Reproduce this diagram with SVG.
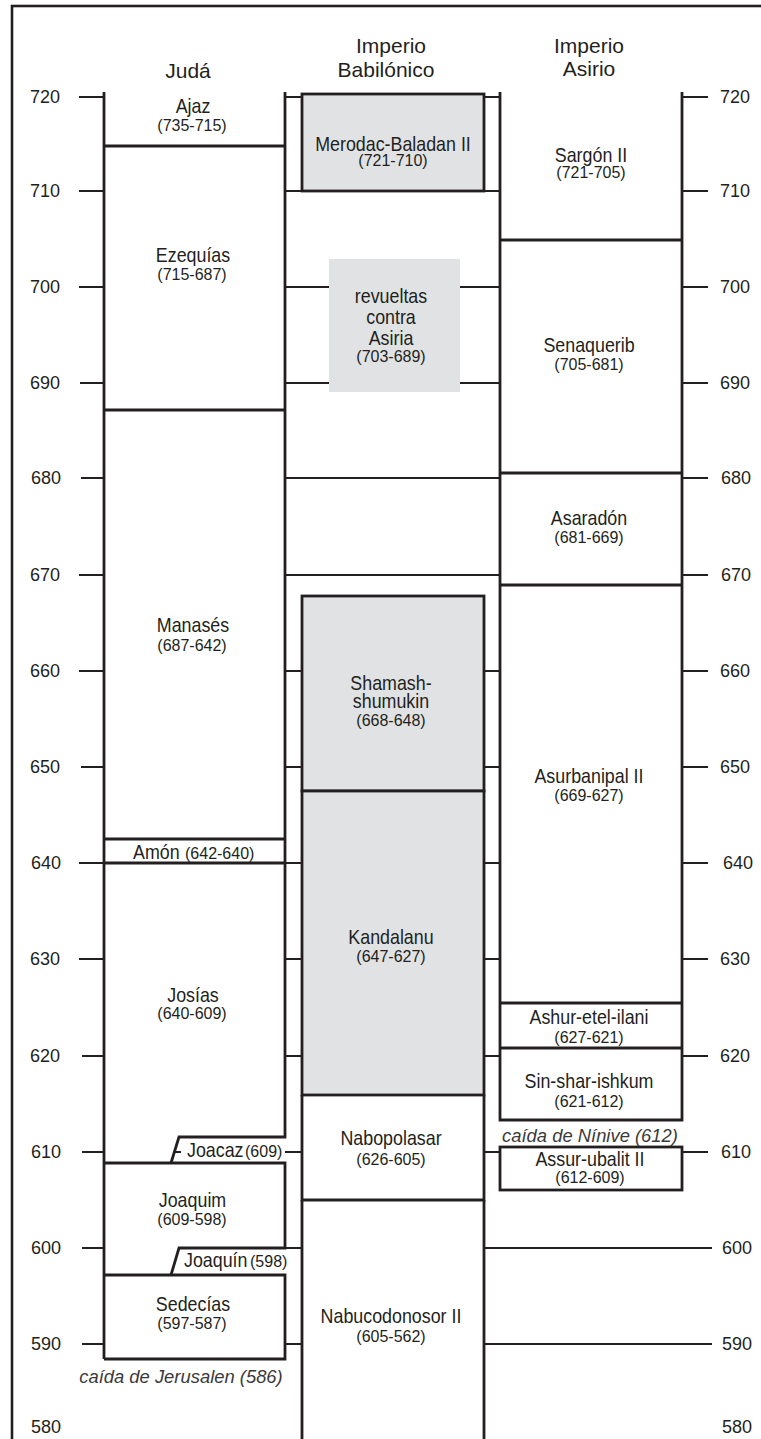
<svg xmlns="http://www.w3.org/2000/svg" width="761" height="1439" viewBox="0 0 761 1439">
<style>
.frame{fill:none;stroke:#231f20;stroke-width:2.6}
.col{fill:none;stroke:#231f20;stroke-width:2.8}
.gray{fill:#e1e2e4;stroke:#231f20;stroke-width:2.8}
.soft{fill:#e1e2e4;stroke:none}
.tick{stroke:#231f20;stroke-width:1.9;fill:none}
text{fill:#231f20}
.n{font-family:"Liberation Sans",sans-serif;font-size:21px;text-anchor:middle;transform:scaleX(0.85);transform-box:fill-box;transform-origin:center}
.ns{font-family:"Liberation Sans",sans-serif;font-size:21px;transform:scaleX(0.85);transform-box:fill-box;transform-origin:left center}
.y{font-family:"Liberation Sans",sans-serif;font-size:16px;text-anchor:middle}
.ys{font-family:"Liberation Sans",sans-serif;font-size:16px}
.h{font-family:"Liberation Sans",sans-serif;font-size:21px;text-anchor:middle}
.ax{font-family:"Liberation Sans",sans-serif;font-size:18px}
.axl{text-anchor:end}
.note{font-family:"Liberation Sans",sans-serif;font-size:18.4px;font-style:italic;text-anchor:middle;fill:#3a3a3a}
</style>
<rect class="frame" x="12" y="6" width="760" height="1440"/>

<g id="headers">
<text class="h" x="188" y="78">Judá</text>
<text class="h" x="391" y="53">Imperio</text>
<text class="h" x="386" y="77">Babilónico</text>
<text class="h" x="589" y="53">Imperio</text>
<text class="h" x="589" y="76">Asirio</text>
</g>

<g id="axis-left" class="ax axl">
<text x="60" y="103">720</text>
<text x="60" y="197">710</text>
<text x="60" y="293">700</text>
<text x="60" y="389">690</text>
<text x="61" y="484">680</text>
<text x="60" y="581">670</text>
<text x="60" y="677">660</text>
<text x="60" y="773">650</text>
<text x="61" y="869">640</text>
<text x="60" y="965">630</text>
<text x="60" y="1062">620</text>
<text x="61" y="1158">610</text>
<text x="61" y="1254">600</text>
<text x="61" y="1350">590</text>
<text x="61" y="1433">580</text>
</g>
<g id="axis-right" class="ax">
<text x="720" y="103">720</text>
<text x="720" y="197">710</text>
<text x="720" y="293">700</text>
<text x="720" y="389">690</text>
<text x="721" y="484">680</text>
<text x="721" y="581">670</text>
<text x="720" y="677">660</text>
<text x="720" y="773">650</text>
<text x="723" y="869">640</text>
<text x="720" y="965">630</text>
<text x="720" y="1062">620</text>
<text x="721" y="1158">610</text>
<text x="722" y="1254">600</text>
<text x="722" y="1350">590</text>
<text x="722" y="1433">580</text>
</g>

<g id="connectors" class="tick">
<path d="M79 97H104M285 97H302M484 97H500M682 97H708"/>
<path d="M79 191H104M285 191H302M484 191H500M682 191H708"/>
<path d="M79 287H104M285 287H329M460 287H500M682 287H708"/>
<path d="M80 383H104M285 383H329M460 383H500M682 383H708"/>
<path d="M81 478H104M285 478H500M682 478H708"/>
<path d="M79 575H104M285 575H500M682 575H708"/>
<path d="M79 671H104M285 671H302M484 671H500M682 671H708"/>
<path d="M81 767H104M285 767H302M484 767H500M682 767H708"/>
<path d="M79 863H104M285 863H302M484 863H500M682 863H708"/>
<path d="M79 959H104M285 959H302M484 959H500M682 959H708"/>
<path d="M82 1056H104M285 1056H302M484 1056H500M682 1056H708"/>
<path d="M82 1152H104M174 1152H181M285 1152H302M484 1152H500M682 1152H708"/>
<path d="M82 1248H104M285 1248H302M484 1248H712"/>
<path d="M82 1344H104M285 1344H302M484 1344H712"/>
</g>

<g id="columns" class="col">
<path d="M104 92V1359"/>
<path d="M285 92V1137H179L171 1163"/>
<path d="M104 1163H285V1248H179L171 1275"/>
<path d="M104 1275H285V1359H104"/>
<path d="M104 146H285M104 410H285M104 839H285M104 863H285"/>
<path d="M500 92V1120H682V92"/>
<path d="M500 240H682M500 473H682M500 585H682M500 1003H682M500 1048H682"/>
</g>

<g id="merodac-baladan">
<rect class="gray" x="302" y="94" width="182" height="97"/>
<text class="n" x="393" y="151">Merodac-Baladan II</text>
<text class="y" x="393" y="166">(721-710)</text>
</g>
<g id="revueltas">
<rect class="soft" x="329" y="259" width="131" height="133"/>
<text class="n" x="391" y="303">revueltas</text>
<text class="n" x="391" y="324">contra</text>
<text class="n" x="391" y="345">Asiria</text>
<text class="y" x="391" y="362">(703-689)</text>
</g>
<g id="shamash-shumukin">
<rect class="gray" x="302" y="596" width="182" height="195"/>
<text class="n" x="391" y="690">Shamash-</text>
<text class="n" x="391" y="708">shumukin</text>
<text class="y" x="391" y="726">(668-648)</text>
</g>
<g id="kandalanu">
<rect class="gray" x="302" y="791" width="182" height="304"/>
<text class="n" x="391" y="944">Kandalanu</text>
<text class="y" x="391" y="962">(647-627)</text>
</g>
<g id="nabopolasar">
<path class="col" d="M302 1095V1200H484V1095"/>
<text class="n" x="391" y="1145">Nabopolasar</text>
<text class="y" x="391" y="1165">(626-605)</text>
</g>
<g id="nabucodonosor">
<path class="col" d="M302 1200V1442M484 1200V1442"/>
<text class="n" x="391" y="1323">Nabucodonosor II</text>
<text class="y" x="391" y="1342">(605-562)</text>
</g>

<g id="ajaz">
<text class="n" x="193" y="113">Ajaz</text>
<text class="y" x="192" y="131">(735-715)</text>
</g>
<g id="ezequias">
<text class="n" x="193" y="262">Ezequías</text>
<text class="y" x="192" y="280">(715-687)</text>
</g>
<g id="manases">
<text class="n" x="193" y="632">Manasés</text>
<text class="y" x="192" y="651">(687-642)</text>
</g>
<g id="amon">
<text class="ns" x="133" y="859">Amón</text>
<text class="ys" x="185" y="859">(642-640)</text>
</g>
<g id="josias">
<text class="n" x="193" y="1002">Josías</text>
<text class="y" x="192" y="1019">(640-609)</text>
</g>
<g id="joacaz">
<text class="ns" x="187" y="1157">Joacaz</text>
<text class="ys" x="245" y="1157">(609)</text>
</g>
<g id="joaquim">
<text class="n" x="192.5" y="1207">Joaquim</text>
<text class="y" x="192" y="1225">(609-598)</text>
</g>
<g id="joaquin">
<text class="ns" x="184" y="1267">Joaquín</text>
<text class="ys" x="250" y="1267">(598)</text>
</g>
<g id="sedecias">
<text class="n" x="193" y="1311">Sedecías</text>
<text class="y" x="192" y="1329">(597-587)</text>
</g>
<g id="caida-jerusalen">
<text class="note" x="181" y="1383">caída de Jerusalen (586)</text>
</g>

<g id="sargon">
<text class="n" x="591" y="162">Sargón II</text>
<text class="y" x="591" y="178">(721-705)</text>
</g>
<g id="senaquerib">
<text class="n" x="589" y="352">Senaquerib</text>
<text class="y" x="589" y="370">(705-681)</text>
</g>
<g id="asaradon">
<text class="n" x="589" y="525">Asaradón</text>
<text class="y" x="589" y="543">(681-669)</text>
</g>
<g id="asurbanipal">
<text class="n" x="589" y="783">Asurbanipal II</text>
<text class="y" x="589" y="801">(669-627)</text>
</g>
<g id="ashur-etel-ilani">
<text class="n" x="589" y="1024">Ashur-etel-ilani</text>
<text class="y" x="589" y="1043">(627-621)</text>
</g>
<g id="sin-shar-ishkum">
<text class="n" x="589" y="1088">Sin-shar-ishkum</text>
<text class="y" x="589" y="1107">(621-612)</text>
</g>
<g id="caida-ninive">
<text class="note" x="590" y="1142">caída de Nínive (612)</text>
</g>
<g id="assur-ubalit">
<rect class="col" x="500" y="1147" width="182" height="43"/>
<text class="n" x="590" y="1166">Assur-ubalit II</text>
<text class="y" x="590" y="1183">(612-609)</text>
</g>
</svg>
